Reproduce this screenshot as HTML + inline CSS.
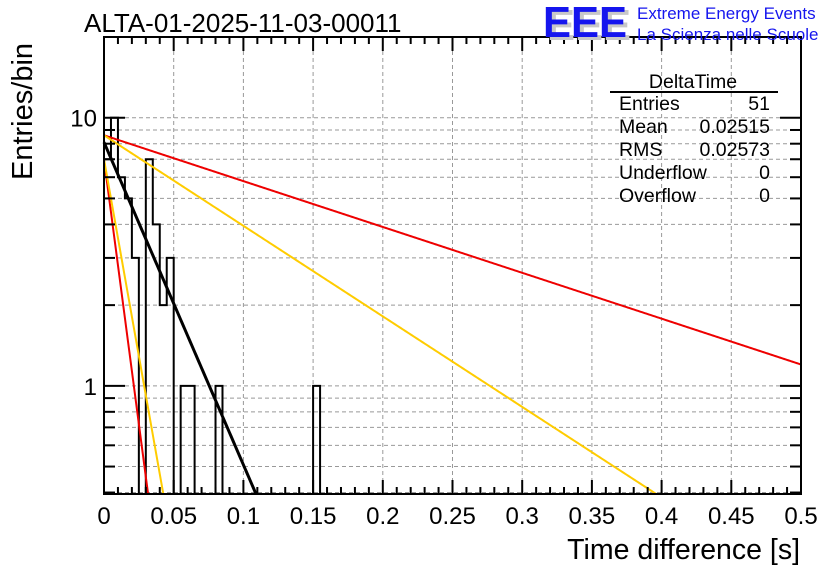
<!DOCTYPE html>
<html><head><meta charset="utf-8"><style>
body{margin:0;background:#fff;}
svg{display:block;font-family:"Liberation Sans",sans-serif;}
</style></head><body>
<svg id="c" width="836" height="572" viewBox="0 0 836 572" xmlns="http://www.w3.org/2000/svg">
<rect width="836" height="572" fill="#fff"/>
<g id="grid"></g>
<g id="hist"></g>
<g id="fits"></g>
<g id="axes"></g>
<text x="84" y="32" font-size="26">ALTA-01-2025-11-03-00011</text>
<g>
<text x="547" y="40" font-size="44" font-weight="bold" fill="#c8c8c8" textLength="84" lengthAdjust="spacingAndGlyphs">EEE</text>
<text x="543" y="37" font-size="44" font-weight="bold" fill="#1515ee" textLength="84" lengthAdjust="spacingAndGlyphs">EEE</text>
<text x="637" y="19" font-size="17" fill="#1515ee">Extreme Energy Events</text>
<text x="637" y="40" font-size="17" fill="#1515ee">La Scienza nelle Scuole</text>
</g>
<g font-size="19.5">
<text x="693" y="88" text-anchor="middle">DeltaTime</text>
<line x1="610" y1="92" x2="778" y2="92" stroke="#000" stroke-width="2"/>
<text x="619" y="110">Entries</text><text x="770" y="110" text-anchor="end">51</text>
<text x="619" y="133">Mean</text><text x="770" y="133" text-anchor="end">0.02515</text>
<text x="619" y="156">RMS</text><text x="770" y="156" text-anchor="end">0.02573</text>
<text x="619" y="179">Underflow</text><text x="770" y="179" text-anchor="end">0</text>
<text x="619" y="202">Overflow</text><text x="770" y="202" text-anchor="end">0</text>
</g>
<text x="800" y="559" font-size="28.5" text-anchor="end">Time difference [s]</text>
<text transform="translate(32,180) rotate(-90)" font-size="29" text-anchor="start">Entries/bin</text>
</svg>
<script>
const binWidth = 0.005;
const counts = [7,10,6,5,3,0,7,4,2,3,0,1,1,0,0,0,1,0,0,0,0,0,0,0,0,0,0,0,0,0,1];
const xTicks = [0,0.05,0.1,0.15,0.2,0.25,0.3,0.35,0.4,0.45,0.5];
const xTickLabels = ["0","0.05","0.1","0.15","0.2","0.25","0.3","0.35","0.4","0.45","0.5"];
const yLabelValues = [1,10];
const fitAmps = [8.6,8.6,7,7,8.1];
const fitTaus = [0.254,0.1286,0.011,0.0148,0.0361];
const fitColors = ["#ee0000","#ffcc00","#ee0000","#ffcc00","#000000"];
const fitNames = ["fit-red-slow","fit-yellow-slow","fit-red-fast","fit-yellow-fast","fit-black"];

const X0=104,X1=801,Y0=494,Y1=37;
const yMin=0.395,yMax=20;
const NS="http://www.w3.org/2000/svg";
const sx=v=>X0+(v-0)/(0.5)*(X1-X0);
const sy=v=>{const c=Math.max(v,yMin);return Y0-(Math.log10(c)-Math.log10(yMin))/(Math.log10(yMax)-Math.log10(yMin))*(Y0-Y1);};
function mk(tag,attrs,parent){const e=document.createElementNS(NS,tag);for(const k in attrs)e.setAttribute(k,attrs[k]);parent.appendChild(e);return e;}
const grid=document.getElementById('grid'),axes=document.getElementById('axes'),hist=document.getElementById('hist'),fits=document.getElementById('fits');
const yTickVals=[];
for(let d=0.1;d<=10;d*=10){for(let m=1;m<10;m++){const v=+(m*d).toPrecision(3);if(v>=yMin&&v<=yMax)yTickVals.push(v);}}
yTickVals.push(20);
xTicks.forEach(v=>{if(v>0&&v<0.5){const l=mk('line',{x1:sx(v),x2:sx(v),y1:Y1,y2:Y0,stroke:'#999','stroke-dasharray':'4,3'},grid);}});
yTickVals.forEach(v=>{const y=sy(v);if(y>Y1+1&&y<Y0-1){const l=mk('line',{x1:X0,x2:X1,y1:y,y2:y,stroke:'#999','stroke-dasharray':'4,3'},grid);}});
let d='M'+X0+','+Y0;
counts.forEach((c,i)=>{const xa=sx(i*binWidth),xb=sx((i+1)*binWidth),y=c>0?sy(c):Y0;d+=' L'+xa+','+y+' L'+xb+','+y;});
d+=' L'+sx(counts.length*binWidth)+','+Y0;
const hp=mk('path',{d:d,fill:'none',stroke:'#000','stroke-width':2},hist);


fitAmps.forEach((A,k)=>{let p='';for(let i=0;i<=500;i++){const x=i*0.001;const v=A*Math.exp(-x/fitTaus[k]);if(v<yMin){p+=(p?' L':'M')+sx(fitTaus[k]*Math.log(A/yMin))+','+Y0;break;}p+=(p?' L':'M')+sx(x)+','+sy(v);}
const e=mk('path',{d:p,fill:'none',stroke:fitColors[k],'stroke-width':k==4?3:2},fits);

});
const fr=mk('rect',{x:X0,y:Y1,width:X1-X0,height:Y0-Y1,fill:'none',stroke:'#000','stroke-width':2},axes);


for(let i=0;i<=50;i++){const v=i*0.01;const x=sx(v);const major=i%5==0;const L=major?14:7;
mk('line',{x1:x,x2:x,y1:Y0,y2:Y0-L,stroke:'#000','stroke-width':2},axes);mk('line',{x1:x,x2:x,y1:Y1,y2:Y1+L,stroke:'#000','stroke-width':2},axes);}
xTicks.forEach((v,i)=>{const t=mk('text',{x:sx(v),y:524,'font-size':24,'text-anchor':'middle'},axes);t.textContent=xTickLabels[i];

});
yTickVals.forEach(v=>{const y=sy(v);const major=(v===1||v===10);const L=major?21:11;
mk('line',{x1:X0,x2:X0+L,y1:y,y2:y,stroke:'#000','stroke-width':2},axes);mk('line',{x1:X1,x2:X1-L,y1:y,y2:y,stroke:'#000','stroke-width':2},axes);});
yLabelValues.forEach(v=>{const t=mk('text',{x:97,y:sy(v)+9,'font-size':24,'text-anchor':'end'},axes);t.textContent=String(v);

});
</script>
</body></html>
